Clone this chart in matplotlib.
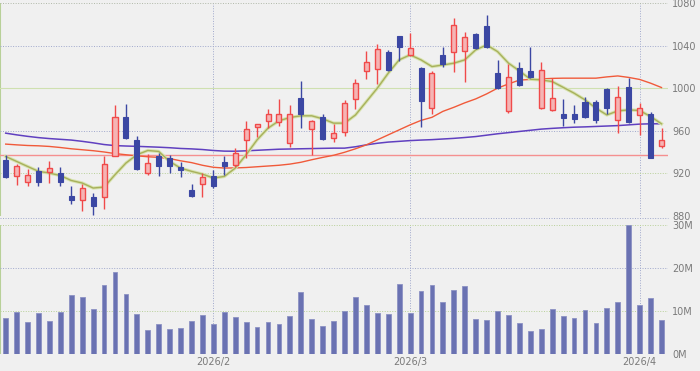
import numpy as np
import pandas as pd
import matplotlib
matplotlib.use("Agg")
import matplotlib.pyplot as plt

# jours de bourse (Tokyo) du 5 janv. au 3 avril 2026
holidays = ["2026-01-12", "2026-02-11", "2026-02-23", "2026-03-20"]
dates = pd.bdate_range("2026-01-05", "2026-04-03", freq="C", holidays=holidays)

opens = [933, 918, 912, 922.5, 921, 920, 899, 895, 898, 898, 936, 973, 951, 920, 936, 934.5,
         926, 904, 910, 918, 931, 927.5, 951, 964, 969, 968, 949, 991, 962, 973, 953, 959,
         990, 1016, 1018, 1034, 1049, 1031.5, 1019, 982, 1031, 1034, 1035, 1051, 1059, 1014,
         979, 1019, 1016, 982, 980, 976, 976, 987, 987, 999, 970, 1001, 975, 976, 946]
highs = [937, 929, 924, 926, 932, 926, 908, 910, 902, 936, 984, 985, 955, 938, 939, 937.5,
         931, 910, 920, 923.5, 936.5, 944, 969, 966.5, 980.5, 990, 984, 1007, 970, 976, 966.5, 989,
         1008.5, 1035, 1042, 1036, 1049.5, 1052, 1020.5, 1016, 1039, 1066, 1053, 1052, 1069, 1027,
         1023, 1025, 1039, 1025, 1010, 990, 984.5, 992, 989, 1000, 1002, 1010, 986, 978, 963]
lows = [916, 909, 908, 908, 911, 908, 891, 885, 881, 887, 936, 952, 923, 919, 918, 920,
        917, 898, 898, 906, 919, 926, 934.5, 954, 963, 965, 945, 963, 937.5, 951, 950, 955,
        980.5, 1008.5, 1004, 1016, 1026, 1030, 964, 975.5, 1020, 1015, 1006, 1037, 1038, 999,
        977, 1002, 1010, 981, 979, 965, 967, 972, 967, 976, 958, 967, 956, 934.5, 944]
closes = [917, 927, 919, 912, 925, 912, 895, 906, 889, 929, 973, 953, 924, 930, 927, 927,
          923.5, 898.5, 917, 908, 927, 939, 962, 966.4, 976, 976, 976, 976, 969.5, 952, 958, 986,
          1005, 1024.5, 1037, 1017, 1039, 1038, 988.5, 1014, 1023, 1059.5, 1048, 1038, 1039, 1000,
          1010.5, 1003, 1011, 1017, 991, 972, 971, 973.5, 970.5, 982, 992, 968, 982, 935, 951.5]

# moyennes mobiles
ma_short = [936, 931.3, 926.6, 922, 920.4, 918, 913.4, 911, 906.3, 907.2, 918.8, 929.8, 937.6,
            941.6, 940.7, 931.3, 925, 922, 919.4, 915.7, 917.2, 925, 937.6, 951.6, 962.6, 969.5,
            972.6, 974.2, 974.2, 971.4, 967.3, 967.3, 975, 987.6, 1000.2, 1014.3, 1026.8, 1031.5,
            1026.8, 1020.5, 1022, 1023.7, 1026.8, 1036.2, 1040.8, 1034.6, 1023.7, 1016.4, 1008.6,
            1008, 1006.4, 1001, 995.5, 989.2, 981.4, 975, 978.8, 979.8, 979.2, 973.5, 966.7]
ma_mid = [947.6, 946.9, 946.3, 946, 945.4, 944.4, 943.2, 942.3, 941.4, 940.2, 938.7, 937.6,
          936.6, 935.7, 935.1, 934, 931.9, 930.2, 927.7, 925.8, 925.1, 925.2, 925.6, 926.3, 927,
          927.7, 928.8, 930.5, 932.9, 935.1, 937.1, 939.9, 943.2, 946.9, 951.6, 956.3, 961, 965.7,
          969.9, 972.8, 978.4, 982.2, 986.4, 990.1, 994.8, 1000.2, 1004.2, 1007.8, 1008.4, 1008.9,
          1009.4, 1009.6, 1009.6, 1009.6, 1009.6, 1010.8, 1011.7, 1010.3, 1008.4, 1004.9, 1000.8]
ma_long = [957.9, 956.3, 954.9, 953.7, 952.8, 952.1, 951.4, 950.2, 948.8, 947.2, 946.2, 945.8,
           945.5, 945.1, 944.7, 944.2, 943.5, 943.1, 942.5, 941.6, 941, 940.9, 941.3, 941.8, 942.3,
           942.8, 943, 943.2, 943.4, 943.6, 943.8, 943.8, 945.1, 946.9, 948.4, 949.5, 950.2, 950.9,
           951.4, 951.8, 952.4, 953, 953.8, 954.7, 956, 957.3, 958.4, 959.5, 960.6, 961.7, 962.4,
           963, 963.5, 963.8, 964.2, 964.6, 965, 965.7, 966.4, 966.7, 966.7]
support = 937

# volume en millions
volumes = [8.4, 9.9, 7.6, 9.5, 7.7, 9.9, 13.8, 13.2, 10.5, 16, 19.2, 14, 9.3, 5.65, 7, 5.9,
           6, 7.7, 9.1, 7, 9.8, 8.6, 7.6, 6.3, 7.6, 7, 8.9, 14.5, 8.2, 6.6, 7.7, 10.1,
           13.3, 11.5, 9.5, 9.3, 16.3, 9.5, 14.65, 16, 12.1, 14.9, 15.8, 8.2, 8, 10.1,
           9.1, 7.35, 5.4, 5.9, 10.4, 8.9, 8.4, 10.3, 7.2, 10.8, 12.1, 30.1, 11.5, 13, 8]

price_ticks = [880, 920, 960, 1000, 1040, 1080]
vol_ticks = [0, 10, 20, 30]

df = pd.DataFrame({"open": opens, "high": highs, "low": lows, "close": closes,
                   "vol": volumes}, index=dates)
x = np.arange(len(df))
up = df["close"] >= df["open"]

# premier jour de chaque mois (sauf le premier)
month_pos = [i for i in range(1, len(dates)) if dates[i].month != dates[i - 1].month]
month_lab = [dates[i].strftime("%Y/") + str(dates[i].month) for i in month_pos]

bg = "#f0f0f0"
up_edge = "#f04a4a"
up_face = "#f5b4b4"
dn_col = "#3b47a3"
grid_g = "#b8d098"
grid_b = "#a0a8cc"
lab_col = "#7a7a7a"
dots = (0, (1, 1.6))

fig = plt.figure(figsize=(7, 3.71), dpi=100, facecolor=bg)
ax1 = fig.add_axes([0, 1 - 216 / 371, 668 / 700, (216 - 3.3) / 371])
ax2 = fig.add_axes([0, 1 - 354.3 / 371, 668 / 700, (354.3 - 225) / 371])

xlim = (-5.7 / 10.93, (668 - 5.7) / 10.93)

for a in (ax1, ax2):
    a.set_facecolor(bg)
    a.set_xlim(*xlim)
    for s in a.spines.values():
        s.set_visible(False)
    a.yaxis.tick_right()
    a.tick_params(axis="y", length=0, pad=3, labelsize=7, labelcolor=lab_col)
    a.tick_params(axis="x", length=0)
    for p in month_pos:
        a.axvline(p, color=grid_b, lw=0.7, ls=dots, zorder=0)
    a.axvline(xlim[0] + 0.02, color=grid_g, lw=1.5, zorder=0)
    a.axvline(xlim[1] - 0.02, color=grid_g, lw=0.7, ls=dots, zorder=0)

# --- prix ---
ax1.set_ylim(880, 1080)
ax1.set_yticks(price_ticks)
ax1.set_xticks([])
for i, t in enumerate(price_ticks):
    c = grid_g if i % 2 == 1 else grid_b
    if t == 1080:
        c = "#b0b8a8"
    ax1.axhline(t, color=c, lw=0.7, ls=dots, zorder=0)
ax1.axhline(1000, color="#cfe0b0", lw=0.8, zorder=0)
ax1.axhline(support, color="#f59090", lw=1, zorder=1)

ax1.plot(x, ma_long, color="#6040c0", lw=1.1, zorder=2)
ax1.plot(x, ma_mid, color="#f05a3a", lw=1.0, zorder=2)
ax1.plot(x, ma_short, color="#d8e4b0", lw=2.4, zorder=2)
ax1.plot(x, ma_short, color="#a8b05c", lw=1.0, zorder=2)

w = 0.46
ax1.vlines(x[up], df["low"][up], df["high"][up], color=up_edge, lw=1, zorder=3)
ax1.vlines(x[~up], df["low"][~up], df["high"][~up], color=dn_col, lw=1, zorder=3)
body_lo = np.minimum(df["open"], df["close"])
body_h = np.maximum(np.abs(df["close"] - df["open"]), 0.8)
ax1.bar(x[up], body_h[up], w, bottom=body_lo[up], color=up_face, edgecolor=up_edge,
        lw=1, zorder=4)
ax1.bar(x[~up], body_h[~up], w, bottom=body_lo[~up], color=dn_col, edgecolor=dn_col,
        lw=0.8, zorder=4)

# --- volume ---
ax2.set_ylim(0, 30)
ax2.set_yticks(vol_ticks)
ax2.set_yticklabels([str(v) + "M" for v in vol_ticks])
for i, t in enumerate(vol_ticks):
    c = grid_b if t in (0, 20) else grid_g
    ax2.axhline(t, color=c, lw=0.7, ls=dots, zorder=0)
ax2.bar(x, df["vol"], 0.44, color="#6a72b2", edgecolor="#8c92c4", lw=0.6, zorder=3)
ax2.set_xticks(month_pos)
ax2.set_xticklabels(month_lab, fontsize=7, color=lab_col)
ax2.tick_params(axis="x", pad=2)

# séparation entre les deux panneaux
fig.add_artist(plt.Line2D([0, 668 / 700], [1 - 218 / 371] * 2, color=grid_b, lw=0.7,
                          ls=dots))

fig.savefig("out.png", dpi=100, facecolor=bg)
